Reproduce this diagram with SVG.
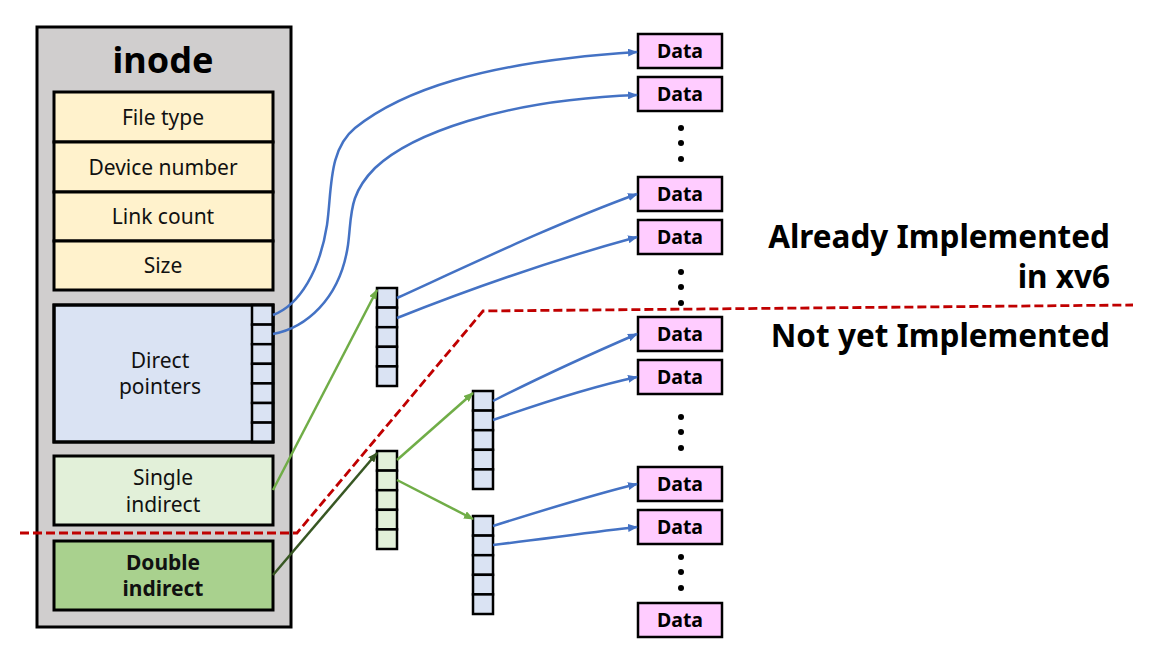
<svg xmlns="http://www.w3.org/2000/svg" width="1154" height="671" viewBox="0 0 1154 671">
<defs>
<style>
.box{stroke:#000;stroke-width:3}
.cell{fill:#dae3f3;stroke:#000;stroke-width:2.5}
.gcell{fill:#e2f0d9;stroke:#000;stroke-width:2.5}
.data{fill:#ffccff;stroke:#000;stroke-width:2.5}
.t{font-family:"Noto Sans","Open Sans","DejaVu Sans",sans-serif;font-size:21px;fill:#111;text-anchor:middle}
.b{font-weight:bold}
.dt{font-family:"Noto Sans","Open Sans","DejaVu Sans",sans-serif;font-size:19.5px;font-weight:bold;fill:#000;text-anchor:middle}
.big{font-family:"Noto Sans","Open Sans","DejaVu Sans",sans-serif;font-size:31.5px;font-weight:bold;fill:#000;text-anchor:end}
.blue{fill:none;stroke:#4472c4;stroke-width:2.5;marker-end:url(#ab)}
.lg{fill:none;stroke:#70ad47;stroke-width:2.5;marker-end:url(#ag)}
.dg{fill:none;stroke:#385723;stroke-width:2.5;marker-end:url(#adg)}
.red{fill:none;stroke:#c00000;stroke-width:2.8;stroke-dasharray:9 4}
</style>
<marker id="ab" markerWidth="10" markerHeight="8" refX="9" refY="4" orient="auto" markerUnits="userSpaceOnUse"><path d="M0,0 L10,4 L0,8 Z" fill="#4472c4"/></marker>
<marker id="ag" markerWidth="10" markerHeight="8" refX="9" refY="4" orient="auto" markerUnits="userSpaceOnUse"><path d="M0,0 L10,4 L0,8 Z" fill="#70ad47"/></marker>
<marker id="adg" markerWidth="10" markerHeight="8" refX="9" refY="4" orient="auto" markerUnits="userSpaceOnUse"><path d="M0,0 L10,4 L0,8 Z" fill="#385723"/></marker>
<g id="cells5">
<rect class="cell" x="0" y="0" width="20" height="19.6"/>
<rect class="cell" x="0" y="19.6" width="20" height="19.6"/>
<rect class="cell" x="0" y="39.2" width="20" height="19.6"/>
<rect class="cell" x="0" y="58.8" width="20" height="19.6"/>
<rect class="cell" x="0" y="78.4" width="20" height="19.6"/>
</g>
</defs>
<rect width="1154" height="671" fill="#fff"/>

<g id="inode">
<rect class="box" x="37" y="27" width="254" height="600" fill="#d0cece"/>
<text x="163" y="73" style="font-family:'Noto Sans','Open Sans','DejaVu Sans',sans-serif;font-size:36px;font-weight:bold;text-anchor:middle">inode</text>
</g>

<g id="file-type"><rect class="box" x="54" y="92" width="219" height="50" fill="#fff2cc"/><text class="t" x="163" y="125">File type</text></g>
<g id="device-number"><rect class="box" x="54" y="142" width="219" height="50" fill="#fff2cc"/><text class="t" x="163" y="175">Device number</text></g>
<g id="link-count"><rect class="box" x="54" y="192" width="219" height="49" fill="#fff2cc"/><text class="t" x="163" y="224">Link count</text></g>
<g id="size"><rect class="box" x="54" y="241" width="219" height="49" fill="#fff2cc"/><text class="t" x="163" y="273">Size</text></g>

<g id="direct-pointers">
<rect class="box" x="54" y="305" width="219" height="137" fill="#dae3f3"/>
<rect class="cell" x="252" y="305" width="21" height="19.6"/>
<rect class="cell" x="252" y="324.6" width="21" height="19.6"/>
<rect class="cell" x="252" y="344.2" width="21" height="19.6"/>
<rect class="cell" x="252" y="363.8" width="21" height="19.6"/>
<rect class="cell" x="252" y="383.4" width="21" height="19.6"/>
<rect class="cell" x="252" y="403" width="21" height="19.6"/>
<rect class="cell" x="252" y="422.6" width="21" height="19.4"/>
<rect x="54" y="305" width="219" height="137" fill="none" stroke="#000" stroke-width="3"/>
<text class="t" x="160" y="368">Direct</text>
<text class="t" x="160" y="394">pointers</text>
</g>

<g id="single-indirect"><rect class="box" x="54" y="456" width="219" height="69" fill="#e2f0d9"/><text class="t" x="163" y="485">Single</text><text class="t" x="163" y="512">indirect</text></g>
<g id="double-indirect"><rect class="box" x="54" y="541" width="219" height="69" fill="#a9d18e"/><text class="t b" x="163" y="570">Double</text><text class="t b" x="163" y="596">indirect</text></g>

<g id="single-block"><use href="#cells5" x="377" y="288"/></g>
<g id="double-block"><rect class="gcell" x="377" y="451" width="20" height="19.6"/><rect class="gcell" x="377" y="470.6" width="20" height="19.6"/><rect class="gcell" x="377" y="490.2" width="20" height="19.6"/><rect class="gcell" x="377" y="509.8" width="20" height="19.6"/><rect class="gcell" x="377" y="529.4" width="20" height="19.6"/></g>
<g id="block-a"><use href="#cells5" x="473" y="391"/></g>
<g id="block-b"><use href="#cells5" x="473" y="516"/></g>

<g id="data-boxes">
<g id="data1"><rect class="data" x="638" y="34" width="84" height="34"/><text class="dt" x="680" y="58">Data</text></g>
<g id="data2"><rect class="data" x="638" y="77" width="84" height="34"/><text class="dt" x="680" y="101">Data</text></g>
<g id="data3"><rect class="data" x="638" y="177" width="84" height="34"/><text class="dt" x="680" y="201">Data</text></g>
<g id="data4"><rect class="data" x="638" y="220" width="84" height="34"/><text class="dt" x="680" y="244">Data</text></g>
<g id="data5"><rect class="data" x="638" y="317" width="84" height="34"/><text class="dt" x="680" y="341">Data</text></g>
<g id="data6"><rect class="data" x="638" y="360" width="84" height="34"/><text class="dt" x="680" y="384">Data</text></g>
<g id="data7"><rect class="data" x="638" y="467" width="84" height="34"/><text class="dt" x="680" y="491">Data</text></g>
<g id="data8"><rect class="data" x="638" y="510" width="84" height="34"/><text class="dt" x="680" y="534">Data</text></g>
<g id="data9"><rect class="data" x="638" y="603" width="84" height="34"/><text class="dt" x="680" y="627">Data</text></g>
</g>

<g id="dots" fill="#000">
<circle cx="681" cy="128" r="3"/><circle cx="681" cy="143" r="3"/><circle cx="681" cy="159" r="3"/>
<circle cx="681" cy="272" r="3"/><circle cx="681" cy="287" r="3"/><circle cx="681" cy="303" r="3"/>
<circle cx="681" cy="417" r="3"/><circle cx="681" cy="432" r="3"/><circle cx="681" cy="448" r="3"/>
<circle cx="681" cy="557" r="3"/><circle cx="681" cy="572" r="3"/><circle cx="681" cy="588" r="3"/>
</g>

<g id="connectors">
<path class="blue" d="M273,315 C300,305 320,270 327,225 C332,190 328,150 355,128 C400,92 480,62 637,52"/>
<path class="blue" d="M273,334 C305,328 340,300 348,245 C352,215 348,195 375,168 C410,135 500,100 637,95"/>
<path class="blue" d="M397,298 C480,260 560,222 637,194"/>
<path class="blue" d="M397,318 C480,285 560,258 637,237"/>
<path class="blue" d="M493,401 C550,372 600,350 637,334"/>
<path class="blue" d="M493,420 C550,400 600,385 637,377"/>
<path class="blue" d="M493,526 C550,508 600,493 637,484"/>
<path class="blue" d="M493,545 C550,538 600,531 637,527"/>
<path class="lg" d="M273,490 L377,290"/>
<path class="dg" d="M273,575 L377,453"/>
<path class="lg" d="M397,460 L473,393"/>
<path class="lg" d="M397,480 L473,519"/>
<path class="red" d="M20,533 L297,533 L483,311 L1133,305"/>
</g>

<g id="labels">
<text class="big" x="1110" y="248">Already Implemented</text>
<text class="big" x="1110" y="288">in xv6</text>
<text class="big" x="1110" y="347">Not yet Implemented</text>
</g>
</svg>
